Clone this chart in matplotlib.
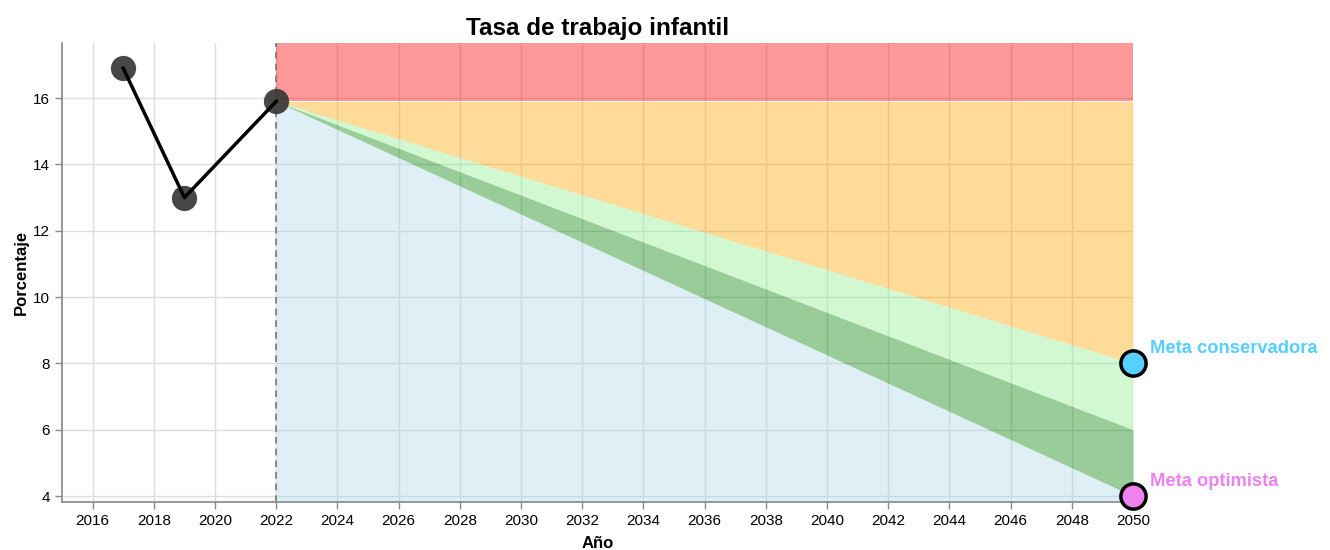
import matplotlib
matplotlib.use("Agg")
import matplotlib.pyplot as plt
import numpy as np

plt.rcParams['font.family'] = ['Liberation Sans', 'DejaVu Sans']

years = [2017, 2019, 2022]
values = [16.9, 13.0, 15.9]
base_year = 2022
target_year = 2050
base_value = 15.9
goal_conservative = 8.0
goal_mid = 6.0
goal_optimistic = 4.0
x_ticks = list(range(2016, 2051, 2))
y_ticks = [4, 6, 8, 10, 12, 14, 16]
ymin, ymax = 3.82, 17.66

fig = plt.figure(figsize=(13.3, 5.5), dpi=100)
ax = fig.add_axes([62/1330, 48/550, 1071/1330, 459/550])
ax.set_xlim(2015, 2050)
ax.set_ylim(ymin, ymax)

ax.grid(True, color='#dddddd', linewidth=1, zorder=0)
ax.set_axisbelow(True)

bx = np.array([base_year, target_year])
cons = np.array([base_value, goal_conservative])
mid = np.array([base_value, goal_mid])
opt = np.array([base_value, goal_optimistic])
top = np.array([ymax, ymax])
bot = np.array([ymin, ymin])
basel = np.array([base_value, base_value])

ax.fill_between(bx, basel, top, color='red', alpha=0.4, linewidth=0, zorder=1)
ax.fill_between(bx, cons, basel, color='orange', alpha=0.4, linewidth=0, zorder=1)
ax.fill_between(bx, mid, cons, color='lightgreen', alpha=0.4, linewidth=0, zorder=1)
ax.fill_between(bx, opt, mid, color='green', alpha=0.4, linewidth=0, zorder=1)
ax.fill_between(bx, bot, opt, color='lightblue', alpha=0.4, linewidth=0, zorder=1)

ax.axvline(base_year, color='#777777', linestyle=(0, (4, 3)), linewidth=1.2, zorder=2)

ax.plot(years, values, color='black', linewidth=2.5, zorder=4)
ax.scatter(years, values, s=330, color='#333333', alpha=0.9, linewidth=0, zorder=3)

ax.scatter([target_year], [goal_conservative], s=330, color='#55d0ff', edgecolor='black',
           linewidth=2.5, zorder=6, clip_on=False)
ax.scatter([target_year], [goal_optimistic], s=330, color='#ee82ee', edgecolor='black',
           linewidth=2.5, zorder=6, clip_on=False)
ax.text(2050.55, goal_conservative + 0.45, 'Meta conservadora', color='#55d0ff', fontsize=13.2,
        fontweight='bold', ha='left', va='center', clip_on=False)
ax.text(2050.55, goal_optimistic + 0.45, 'Meta optimista', color='#ee82ee', fontsize=13.2,
        fontweight='bold', ha='left', va='center', clip_on=False)

ax.set_xticks(x_ticks)
ax.set_xticklabels([str(t) for t in x_ticks])
ax.set_yticks(y_ticks)
ax.tick_params(axis='both', labelsize=11, color='#888888', length=5, width=1)
for s in ['top', 'right']:
    ax.spines[s].set_visible(False)
for s in ['left', 'bottom']:
    ax.spines[s].set_color('#888888')
    ax.spines[s].set_linewidth(1.2)

ax.set_xlabel('Año', fontsize=12, fontweight='bold', labelpad=6)
ax.set_ylabel('Porcentaje', fontsize=12, fontweight='bold', labelpad=3)
ax.set_title('Tasa de trabajo infantil', fontsize=17.5, fontweight='bold', pad=6)

fig.savefig('out.png', dpi=100)
